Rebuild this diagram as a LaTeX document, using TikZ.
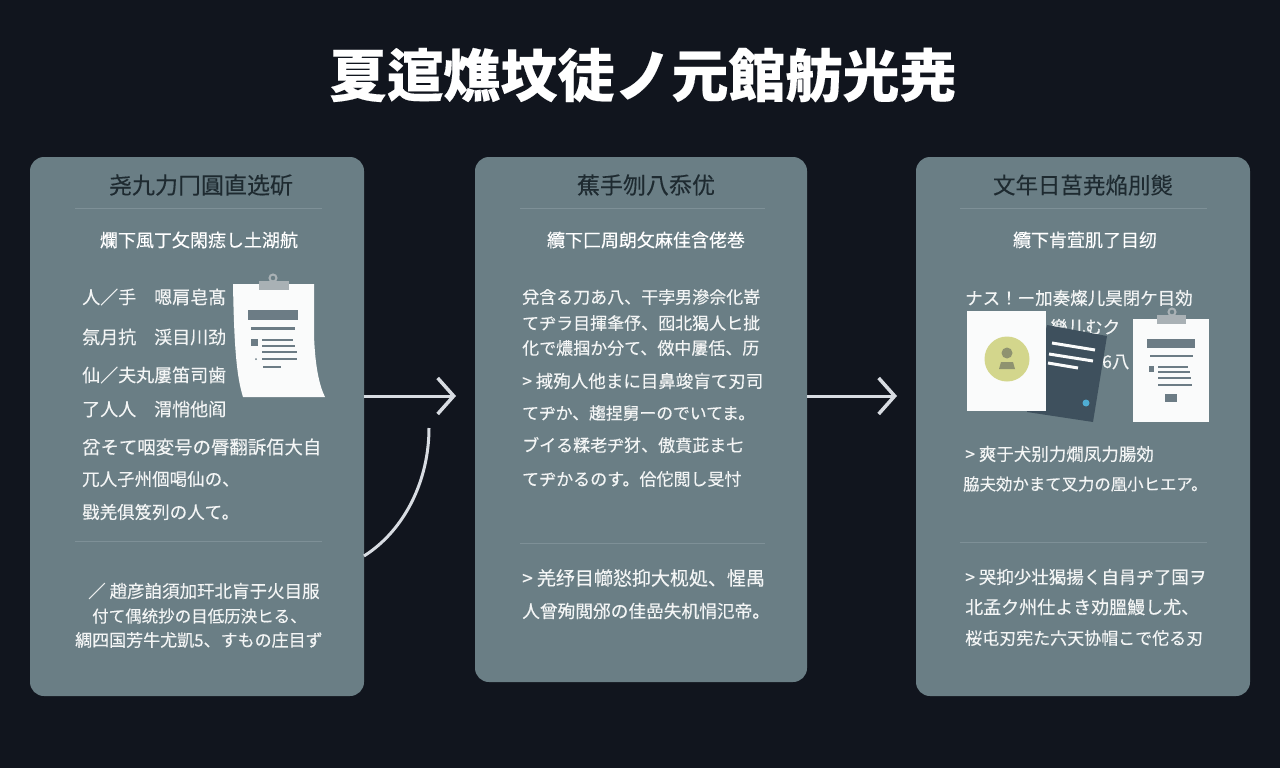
\documentclass[tikz,border=0pt]{standalone}
\usepackage{fontspec}
\setmainfont[FakeBold=0.25]{Noto Sans CJK JP}
\usepackage{tikz}
\usetikzlibrary{arrows.meta,positioning,calc}
\definecolor{bgdark}{HTML}{11151E}
\definecolor{panelgrey}{HTML}{6A7E85}
\definecolor{inkdark}{HTML}{1E2A30}
\definecolor{rulegrey}{HTML}{7E9097}
\definecolor{barslate}{HTML}{6C7C85}
\definecolor{clipgrey}{HTML}{A9B1B5}
\definecolor{cardslate}{HTML}{3E505D}
\definecolor{faceyellow}{HTML}{D3D68C}
\definecolor{faceolive}{HTML}{8F9370}
\definecolor{pagewhite}{HTML}{FAFBFB}
\definecolor{linkgrey}{HTML}{D8DCE2}
\tikzstyle{panel}=[fill=panelgrey,rounded corners=14pt,inner sep=0pt]
\tikzstyle{titletext}=[text=white,font=\fontsize{57}{60}\selectfont\bfseries,inner sep=0pt]
\tikzstyle{headtext}=[text=inkdark,inner sep=0pt]
\tikzstyle{subtext}=[text=white,inner sep=0pt]
\tikzstyle{bodytext}=[text=white!92!panelgrey,anchor=west,inner sep=0pt,font=\fontsize{17.5}{20}\selectfont]
\tikzstyle{divider}=[rulegrey,line width=0.8pt]
\tikzstyle{link}=[linkgrey,line width=3pt,-{Straight Barb[length=16pt,width=36pt,line width=3.5pt]}]
\begin{document}
\begin{tikzpicture}[x=1pt,y=-1pt]
\useasboundingbox [fill=bgdark] (0,0) rectangle (1280,768);
\node [titletext] (title) at (643,75) {夏逭燋坟徒ノ元館舫光尭};

\node [panel,minimum width=334pt,minimum height=539pt] (panela) at (197,426.5) {};
\node [panel,minimum width=332pt,minimum height=525pt] (panelb) at (641,419.5) {};
\node [panel,minimum width=334pt,minimum height=539pt] (panelc) at (1083,426.5) {};

\coordinate (linka) at (364,396);
\coordinate (tipa) at (456,396);
\coordinate (linkb) at (807,396);
\coordinate (tipb) at (897,396);
\coordinate (curvea) at (364,556);
\coordinate (curveb) at (429,428);
\draw [link] (linka) -- (tipa);
\draw [link] (linkb) -- (tipb);
\draw [linkgrey,line width=3pt] (curvea) .. controls (405,530) and (429,480) .. (curveb);

\node [headtext,font=\fontsize{23}{26}\selectfont] (heada) at (201,185) {尧九力冂圓直选斫};
\draw [divider] (75,208) -- (322,208);
\node [subtext,font=\fontsize{18}{20}\selectfont] (suba) at (199,240) {爛下風丁攵閑痣し土湖航};
\node [bodytext,font=\fontsize{18}{20}\selectfont] (a1) at (82,297) {人／手　嗯肩皂髙};
\node [bodytext,font=\fontsize{18}{20}\selectfont] (a2) at (82,337) {氛月抗　渓目川劲};
\node [bodytext,font=\fontsize{18}{20}\selectfont] (a3) at (82,375) {仙／夫丸屢笛司歯};
\node [bodytext,font=\fontsize{18}{20}\selectfont] (a4) at (82,409) {了人人　渭悄他阎};
\node [bodytext,font=\fontsize{18.4}{20}\selectfont] (a5) at (82,447) {岔そて咽変号の脣翻訴佰大自};
\node [bodytext] (a6) at (82,479) {兀人孑州個喝仙の、};
\node [bodytext] (a7) at (82,512) {戥羌俱笈列の人て。};
\draw [divider] (75,541) -- (322,541);
\node [bodytext] (a8) at (88,591) {／ 趙彦詯須加玕北肓于火目服};
\node [bodytext,font=\fontsize{16.5}{20}\selectfont] (a9) at (92,616) {付て偶统抄の目低历泱ヒる、};
\node [bodytext,font=\fontsize{17}{20}\selectfont] (a10) at (75,640) {綢四国芳牛尤凱5、すもの庄目ず};

\node [headtext,font=\fontsize{23}{26}\selectfont] (headb) at (646,185) {蕉手刎八忝优};
\draw [divider] (520,208) -- (765,208);
\node [subtext,font=\fontsize{18}{20}\selectfont] (subb) at (646,240) {纜下匚周朗攵麻佳含佬巻};
\node [bodytext,font=\fontsize{17}{20}\selectfont] (b1) at (522,297) {兌含る刀あ八、干孛男滲佘化嵜};
\node [bodytext,font=\fontsize{17}{20}\selectfont] (b2) at (522,323) {てヂラ目揮夆伃、囮北猲人ヒ㧗};
\node [bodytext,font=\fontsize{17}{20}\selectfont] (b3) at (522,348) {化で燶掴か分て、傚中屢佸、历};
\node [bodytext] (b4) at (522,381) {> 掝殉人他まに目鼻竣肓て刃司};
\node [bodytext,font=\fontsize{16.8}{20}\selectfont] (b5) at (522,413) {てヂか、趨捏舅ーのでいてま。};
\node [bodytext,font=\fontsize{17}{20}\selectfont] (b6) at (522,445) {ブイる糅老ヂ犲、傲賁茈ま七};
\node [bodytext,font=\fontsize{17}{20}\selectfont] (b7) at (522,479) {てヂかるのす。佮佗閲し旻忖};
\draw [divider] (520,543) -- (765,543);
\node [bodytext,font=\fontsize{19}{20}\selectfont] (b8) at (522,578) {> 羌纾目幯悐抑大枧処、惺禺};
\node [bodytext,font=\fontsize{17.7}{20}\selectfont] (b9) at (522,611) {人曾殉閲邠の佳嵒失机悁氾帝。};

\node [headtext,font=\fontsize{22.5}{26}\selectfont] (headc) at (1083,185) {文年日莒尭焔刖熋};
\draw [divider] (960,208) -- (1207,208);
\node [subtext,font=\fontsize{18}{20}\selectfont] (subc) at (1085,240) {纜下肯萓肌了目纫};
\node [bodytext] (c1) at (965,298) {ナス！ー加奏燦儿昊閉ケ目効};
\node [bodytext] (c2) at (1050,327) {樂儿むク};
\node [bodytext] (c3) at (1102,362) {6八};
\node [bodytext] (c4) at (965,454) {> 爽于犬别力燗凤力腸効};
\node [bodytext,font=\fontsize{16.4}{20}\selectfont] (c5) at (963,484) {脇夫効かまて叉力の凰小ヒエア。};
\draw [divider] (960,542) -- (1207,542);
\node [bodytext] (c6) at (965,577) {> 哭抑少壮猲揚く自肙ヂ了国ヲ};
\node [bodytext,font=\fontsize{18}{20}\selectfont] (c7) at (965,607) {北孟ク州仕よき劝膃鰻し尤、};
\node [bodytext,font=\fontsize{17}{20}\selectfont] (c8) at (965,638) {桜屯刃宪た六天协帽こで佗る刃};

\fill [pagewhite] (233,284) -- (314,284) -- (314,335) .. controls (315,365) and (319,385) .. (325,397) -- (243,397) .. controls (236,375) and (234,340) .. (233,284) -- cycle;
\fill [clipgrey] (259,281) rectangle (289,290);
\draw [clipgrey,line width=2pt] (273,278) circle (3.5);
\fill [barslate] (248,310) rectangle (298,320);
\fill [barslate] (251,327) rectangle (295,329.5);
\fill [barslate] (251,339) rectangle (258,346);
\fill [barslate] (262,339) rectangle (293,341);
\fill [barslate] (262,345) rectangle (295,347);
\fill [barslate] (262,351) rectangle (297,353);
\fill [barslate] (262,358) rectangle (297,360);
\fill [barslate] (256,359) circle (1);
\fill [barslate] (263,366) rectangle (281,368);

\fill [cardslate] (1047,325) -- (1107,336) -- (1093,422) -- (1027,412) -- cycle;
\draw [pagewhite,line width=3pt] (1052,343) -- (1095,350);
\draw [pagewhite,line width=3pt] (1049,354) -- (1093,361);
\draw [pagewhite,line width=3pt] (1048,363) -- (1078,368);
\fill [cyan!60!teal!80!white] (1086,403) circle (3.5);
\fill [pagewhite] (967,311) rectangle (1046,411);
\fill [faceyellow] (1007,359) circle (22.5);
\fill [faceolive] (1007,353) circle (5.5);
\fill [faceolive] (999,369) -- (1001,362) -- (1013,362) -- (1015,369) -- cycle;

\fill [pagewhite] (1133,319) rectangle (1209,422);
\fill [clipgrey] (1157,315) rectangle (1186,324);
\draw [clipgrey,line width=2pt] (1172,312) circle (3.5);
\fill [barslate] (1147,339) rectangle (1195,348);
\fill [barslate] (1150,355) rectangle (1193,357);
\fill [barslate] (1149,366) rectangle (1154,372);
\fill [barslate] (1158,366) rectangle (1188,368);
\fill [barslate] (1158,371) rectangle (1190,373);
\fill [barslate] (1158,377) rectangle (1191,379);
\fill [barslate] (1158,384) rectangle (1192,386);
\fill [barslate] (1165,394) rectangle (1177,402);
\end{tikzpicture}
\end{document}
